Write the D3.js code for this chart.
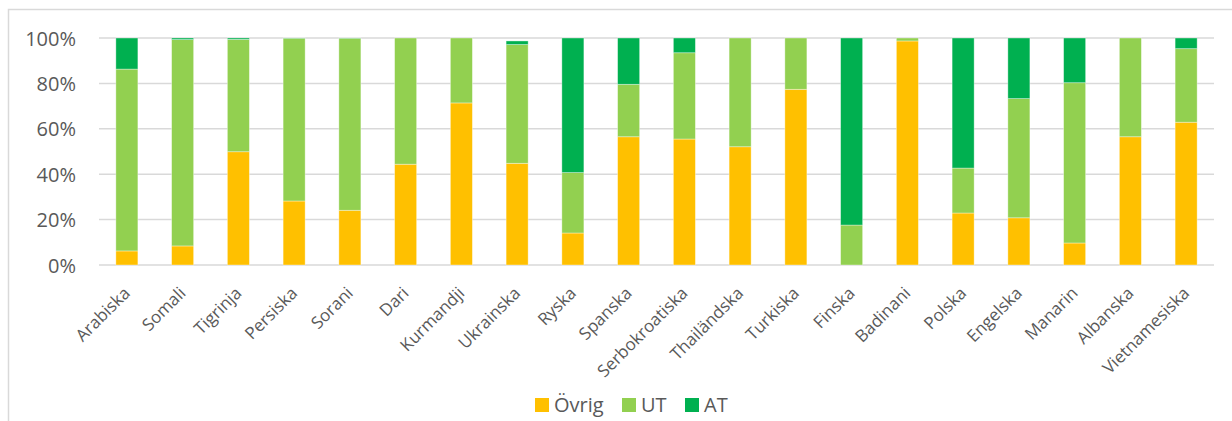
<!DOCTYPE html>
<html>
<head>
<meta charset="utf-8">
<script src="https://cdn.jsdelivr.net/npm/d3@7"></script>
<style>
  html, body { margin: 0; padding: 0; background: #fff; }
  svg { display: block; }
  text { font-family: "Open Sans", sans-serif; fill: #595959; }
</style>
</head>
<body>
<svg id="chart" width="1232" height="421"></svg>
<script>
const categories = ["Arabiska","Somali","Tigrinja","Persiska","Sorani","Dari","Kurmandji","Ukrainska","Ryska","Spanska","Serbokroatiska","Thailändska","Turkiska","Finska","Badinani","Polska","Engelska","Manarin","Albanska","Vietnamesiska"];
const ovrig = [6.2, 8.4, 49.9, 28.2, 24.1, 44.4, 71.4, 44.8, 14.1, 56.5, 55.5, 52.1, 77.4, 0, 98.7, 22.9, 20.8, 9.7, 56.5, 62.9];
const ut    = [80.1, 90.9, 49.5, 71.7, 75.8, 55.6, 28.6, 52.3, 26.6, 23.1, 38.0, 47.9, 22.6, 17.6, 1.3, 19.8, 52.5, 70.6, 43.5, 32.4];
const at    = [13.7, 0.7, 0.6, 0.1, 0.1, 0, 0, 1.6, 59.3, 20.4, 6.5, 0, 0, 82.4, 0, 57.3, 26.7, 19.7, 0, 4.7];
const seriesNames = ["Övrig", "UT", "AT"];
const seriesColors = ["#FFC000", "#92D050", "#00B050"];
const yTicks = [0, 20, 40, 60, 80, 100];

const svg = d3.select("#chart");

// outer chart border (right and bottom edges fall outside the picture)
svg.append("rect")
  .attr("x", 8.5).attr("y", 9.5)
  .attr("width", 1300).attr("height", 500)
  .attr("fill", "none").attr("stroke", "#D9D9D9").attr("stroke-width", 1.5);

const plot = { left: 99, right: 1214, top: 38, bottom: 265 };

const x = d3.scaleBand().domain(categories).range([plot.left, plot.right]).paddingInner(0.605).paddingOuter(0.3025);
const y = d3.scaleLinear().domain([0, 100]).range([plot.bottom, plot.top]);

// gridlines
svg.append("g").selectAll("line").data(yTicks).join("line")
  .attr("x1", plot.left).attr("x2", plot.right)
  .attr("y1", d => y(d)).attr("y2", d => y(d))
  .attr("stroke", "#D9D9D9").attr("stroke-width", 1.5);

// y axis labels
const yAxis = d3.axisLeft(y).tickValues(yTicks).tickFormat(d => d + "%").tickSize(0).tickPadding(0);
const yg = svg.append("g").attr("transform", `translate(${76},0)`).call(yAxis);
yg.select(".domain").remove();
yg.selectAll("text").attr("font-size", 20).attr("font-family", '"Open Sans", sans-serif').attr("fill", "#595959").attr("dy", "0.35em");

// stacked bars
const rows = categories.map((c, i) => ({ cat: c, "Övrig": ovrig[i], "UT": ut[i], "AT": at[i] }));
const stack = d3.stack().keys(seriesNames)(rows);

svg.append("g").selectAll("g").data(stack).join("g")
  .attr("fill", (d, i) => seriesColors[i])
  .selectAll("rect").data(d => d).join("rect")
  .attr("x", d => x(d.data.cat))
  .attr("width", x.bandwidth())
  .attr("y", d => y(d[1]))
  .attr("height", d => Math.max(0, y(d[0]) - y(d[1])))
  .attr("stroke", "#ffffff").attr("stroke-opacity", 0.45).attr("stroke-width", 0.8);

// x axis labels
const xAxis = d3.axisBottom(x).tickSize(0).tickPadding(0);
const xg = svg.append("g").attr("transform", `translate(0,${plot.bottom})`).call(xAxis);
xg.select(".domain").remove();
xg.selectAll("text")
  .attr("font-size", 17).attr("font-family", '"Open Sans", sans-serif').attr("fill", "#595959")
  .attr("text-anchor", "end")
  .attr("dy", "0.35em")
  .attr("transform", "translate(0,25) rotate(-45)");

// legend
const legendItems = [
  { name: "Övrig", color: seriesColors[0], x: 535 },
  { name: "UT", color: seriesColors[1], x: 622 },
  { name: "AT", color: seriesColors[2], x: 685 }
];
const lg = svg.append("g");
legendItems.forEach(it => {
  lg.append("rect").attr("x", it.x).attr("y", 398).attr("width", 14).attr("height", 14).attr("fill", it.color);
  lg.append("text").attr("x", it.x + 19).attr("y", 405).attr("dy", "0.35em")
    .attr("font-size", 20).text(it.name);
});
</script>
</body>
</html>
